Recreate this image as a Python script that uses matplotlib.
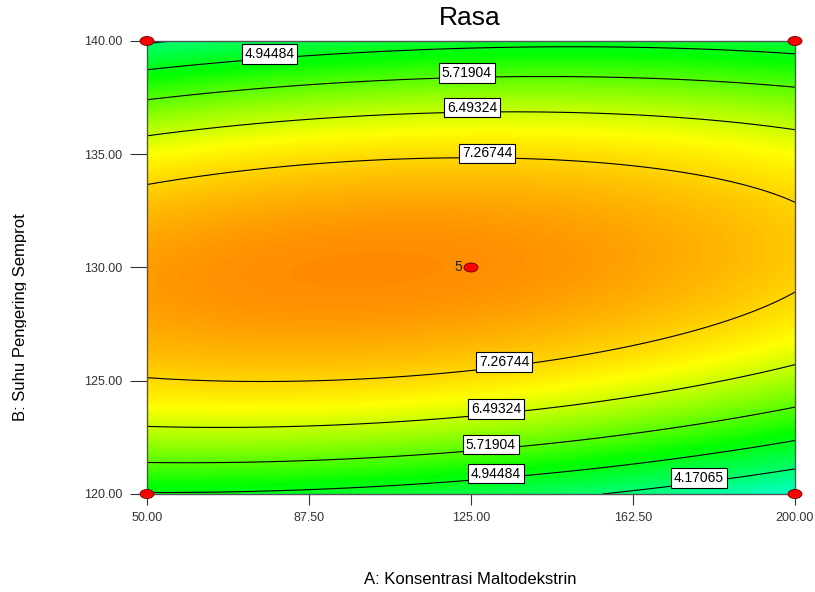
import numpy as np
import matplotlib.pyplot as plt
from matplotlib.colors import LinearSegmentedColormap
from matplotlib.patches import Ellipse, Rectangle

plt.rcParams['font.family'] = ['Liberation Sans', 'DejaVu Sans']

# factor ranges (actual units)
a_range = [50.0, 200.0]
b_range = [120.0, 140.0]
a_ticks = [50.00, 87.50, 125.00, 162.50, 200.00]
b_ticks = [120.00, 125.00, 130.00, 135.00, 140.00]

# quadratic model in coded units (-1..1), read off the contour positions
# terms: intercept, A, B, AB, A^2, B^2
coef_terms = ['b0', 'A', 'B', 'AB', 'A2', 'B2']
coef_vals = [8.01, -0.2475, 0.10, 0.505, -0.39, -3.37]

levels = [4.17065, 4.94484, 5.71904, 6.49324, 7.26744]

# contour label spots (A, B)
label_a = [78.2, 124.0, 125.2, 128.8, 132.4, 130.6, 129.4, 130.6, 177.5]
label_b = [139.59, 138.72, 137.22, 135.23, 126.03, 123.97, 122.38, 121.1, 120.93]

# design points
pt_a = [50, 50, 200, 200, 125]
pt_b = [120, 140, 120, 140, 130]
center_reps = 5

# colour scale: value where each colour sits
color_vals = [0.74, 2.93, 5.12, 6.85, 9.5]
color_list = ['#0000ff', '#00ffff', '#00ff00', '#ffff00', '#ff0000']


def response(a, b):
    x1 = (a - 125.0) / 75.0
    x2 = (b - 130.0) / 10.0
    c = dict(zip(coef_terms, coef_vals))
    return (c['b0'] + c['A'] * x1 + c['B'] * x2 + c['AB'] * x1 * x2
            + c['A2'] * x1 ** 2 + c['B2'] * x2 ** 2)


aa, bb = np.meshgrid(np.linspace(a_range[0], a_range[1], 400),
                     np.linspace(b_range[0], b_range[1], 400))
zz = response(aa, bb)

vmin, vmax = color_vals[0], color_vals[-1]
cmap = LinearSegmentedColormap.from_list(
    'dx', [((v - vmin) / (vmax - vmin), c) for v, c in zip(color_vals, color_list)])

fig = plt.figure(figsize=(8.15, 5.92), dpi=100)
ax = fig.add_axes([147 / 815, 1 - 494 / 592, 648 / 815, 453 / 592])

ax.imshow(zz, origin='lower', extent=[a_range[0], a_range[1], b_range[0], b_range[1]],
          aspect='auto', interpolation='bilinear', cmap=cmap, vmin=vmin, vmax=vmax)
cs = ax.contour(aa, bb, zz, levels=levels, colors='black', linewidths=0.8)
labels = ax.clabel(cs, fmt='%.5f', manual=list(zip(label_a, label_b)),
                   fontsize=10, inline=False)
for t in labels:
    t.set_rotation(0)
    x, y = t.get_position()
    t.set_position((x, y + 0.2))
    t.set_zorder(4)
    t.set_bbox(dict(boxstyle='square,pad=0.2', fc='white', ec='black', lw=0.8))

ax.set_xlim(a_range)
ax.set_ylim(b_range)
ax.set_xticks(a_ticks)
ax.set_yticks(b_ticks)
ax.set_xticklabels(['%.2f' % v for v in a_ticks])
ax.set_yticklabels(['%.2f' % v for v in b_ticks])
ax.tick_params(axis='x', length=8, width=0.8, pad=5, labelsize=9, colors='#333333')
ax.tick_params(axis='y', length=12, width=0.8, pad=6, labelsize=9, colors='#333333')
for s in ax.spines.values():
    s.set_color('#555555')
    s.set_linewidth(1)

# design points
for a, b in zip(pt_a, pt_b):
    e = Ellipse((a, b), 3.24, 0.40, facecolor='red', edgecolor='#600000',
                lw=0.6, clip_on=False, zorder=5)
    ax.add_patch(e)
ax.text(123.0, 130, str(center_reps), fontsize=10, ha='right', va='center', color='#222222')

fig.text(470 / 815, 1 - 18 / 592, 'Rasa', fontsize=19, ha='center', va='center')
fig.text(470 / 815, 1 - 580 / 592, 'A: Konsentrasi Maltodekstrin', fontsize=12,
         ha='center', va='center')
fig.text(25 / 815, 1 - 317 / 592, 'B: Suhu Pengering Semprot', fontsize=12,
         rotation=90, rotation_mode='anchor', ha='center', va='baseline')
# the source cuts the label's descenders off
fig.add_artist(Rectangle((26 / 815, 180 / 592), 30 / 815, 280 / 592,
                         transform=fig.transFigure, fc='white', ec='none', zorder=10))

fig.savefig('out.png', dpi=100)
